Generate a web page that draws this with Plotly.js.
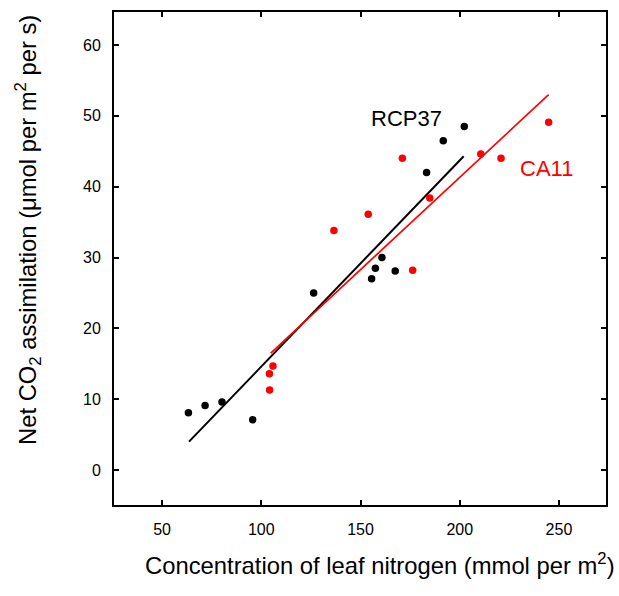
<!DOCTYPE html>
<html>
<head>
<meta charset="utf-8">
<script src="https://cdn.plot.ly/plotly-3.0.1.min.js"></script>
<style>html,body{margin:0;padding:0;background:#fff;}#chart{width:619px;height:596px;}</style>
</head>
<body>
<div id="chart"></div>
<script>
// Leaf nitrogen (mmol per m2) and net CO2 assimilation (umol per m2 per s)
const rcpN = [63.3, 71.7, 80.2, 95.7, 126.4, 155.6, 157.5, 160.8, 167.5, 183.3, 191.7, 202.3];
const rcpA = [8.1, 9.1, 9.6, 7.1, 25.0, 27.0, 28.5, 30.0, 28.1, 42.0, 46.5, 48.5];
const caN = [104.1, 104.2, 105.9, 136.6, 153.9, 171.1, 176.3, 184.9, 210.6, 220.8, 244.8];
const caA = [13.6, 11.3, 14.7, 33.8, 36.1, 44.0, 28.2, 38.4, 44.6, 44.0, 49.1];
// Fitted regression line endpoints
const rcpFitN = [63.6, 202.0];
const rcpFitA = [4.0, 44.3];
const caFitN = [104.8, 244.8];
const caFitA = [16.5, 53.0];
const xTicks = [50, 100, 150, 200, 250];
const yTicks = [0, 10, 20, 30, 40, 50, 60];
const seriesNames = ['RCP37', 'CA11'];

const FONT = 'Liberation Sans, Arial, Helvetica, sans-serif';

const traces = [
  {x: rcpFitN, y: rcpFitA, mode: 'lines', line: {color: '#000000', width: 2}, showlegend: false, hoverinfo: 'skip'},
  {x: caFitN, y: caFitA, mode: 'lines', line: {color: '#ff0000', width: 1.7}, showlegend: false, hoverinfo: 'skip'},
  {x: rcpN, y: rcpA, mode: 'markers', name: seriesNames[0], marker: {color: '#000000', size: 7.5}, showlegend: false},
  {x: caN, y: caA, mode: 'markers', name: seriesNames[1], marker: {color: '#ff0000', size: 7.5}, showlegend: false}
];

const axisCommon = {
  showline: true, linecolor: '#000', linewidth: 2, mirror: 'ticks',
  ticks: 'inside', ticklen: 5, tickwidth: 2, tickcolor: '#000',
  showgrid: false, zeroline: false,
  tickfont: {family: FONT, size: 16, color: '#000'}
};

const layout = {
  width: 619, height: 596,
  margin: {l: 114, r: 13, t: 12, b: 91},
  paper_bgcolor: '#fff', plot_bgcolor: '#fff',
  showlegend: false,
  xaxis: Object.assign({}, axisCommon, {range: [25.8, 273.7], tickvals: xTicks, ticklabelstandoff: 9}),
  yaxis: Object.assign({}, axisCommon, {range: [-4.94, 64.66], tickvals: yTicks, ticklabelstandoff: 8}),
  annotations: [
    {x: 173.3, y: 49.65, xref: 'x', yref: 'y', text: seriesNames[0], showarrow: false,
     font: {family: FONT, size: 22, color: '#000'}, xanchor: 'center', yanchor: 'middle'},
    {x: 243.7, y: 42.6, xref: 'x', yref: 'y', text: seriesNames[1], showarrow: false,
     font: {family: FONT, size: 22, color: '#ff0000'}, xanchor: 'center', yanchor: 'middle'},
    {x: (380 - 114) / 492, y: (596 - 91 - 564) / 493, xref: 'paper', yref: 'paper',
     text: 'Concentration of leaf nitrogen (mmol per m<sup>2</sup>)', showarrow: false,
     font: {family: FONT, size: 23.8, color: '#000'}, xanchor: 'center', yanchor: 'middle'},
    {x: (28 - 114) / 492, y: (505 - 230) / 493, xref: 'paper', yref: 'paper',
     text: 'Net CO<sub>2</sub> assimilation (\u03bcmol per m<sup>2</sup> per s)', showarrow: false, textangle: -90,
     font: {family: FONT, size: 23.8, color: '#000'}, xanchor: 'center', yanchor: 'middle'}
  ]
};

Plotly.newPlot('chart', traces, layout, {staticPlot: true, displayModeBar: false});
</script>
</body>
</html>
